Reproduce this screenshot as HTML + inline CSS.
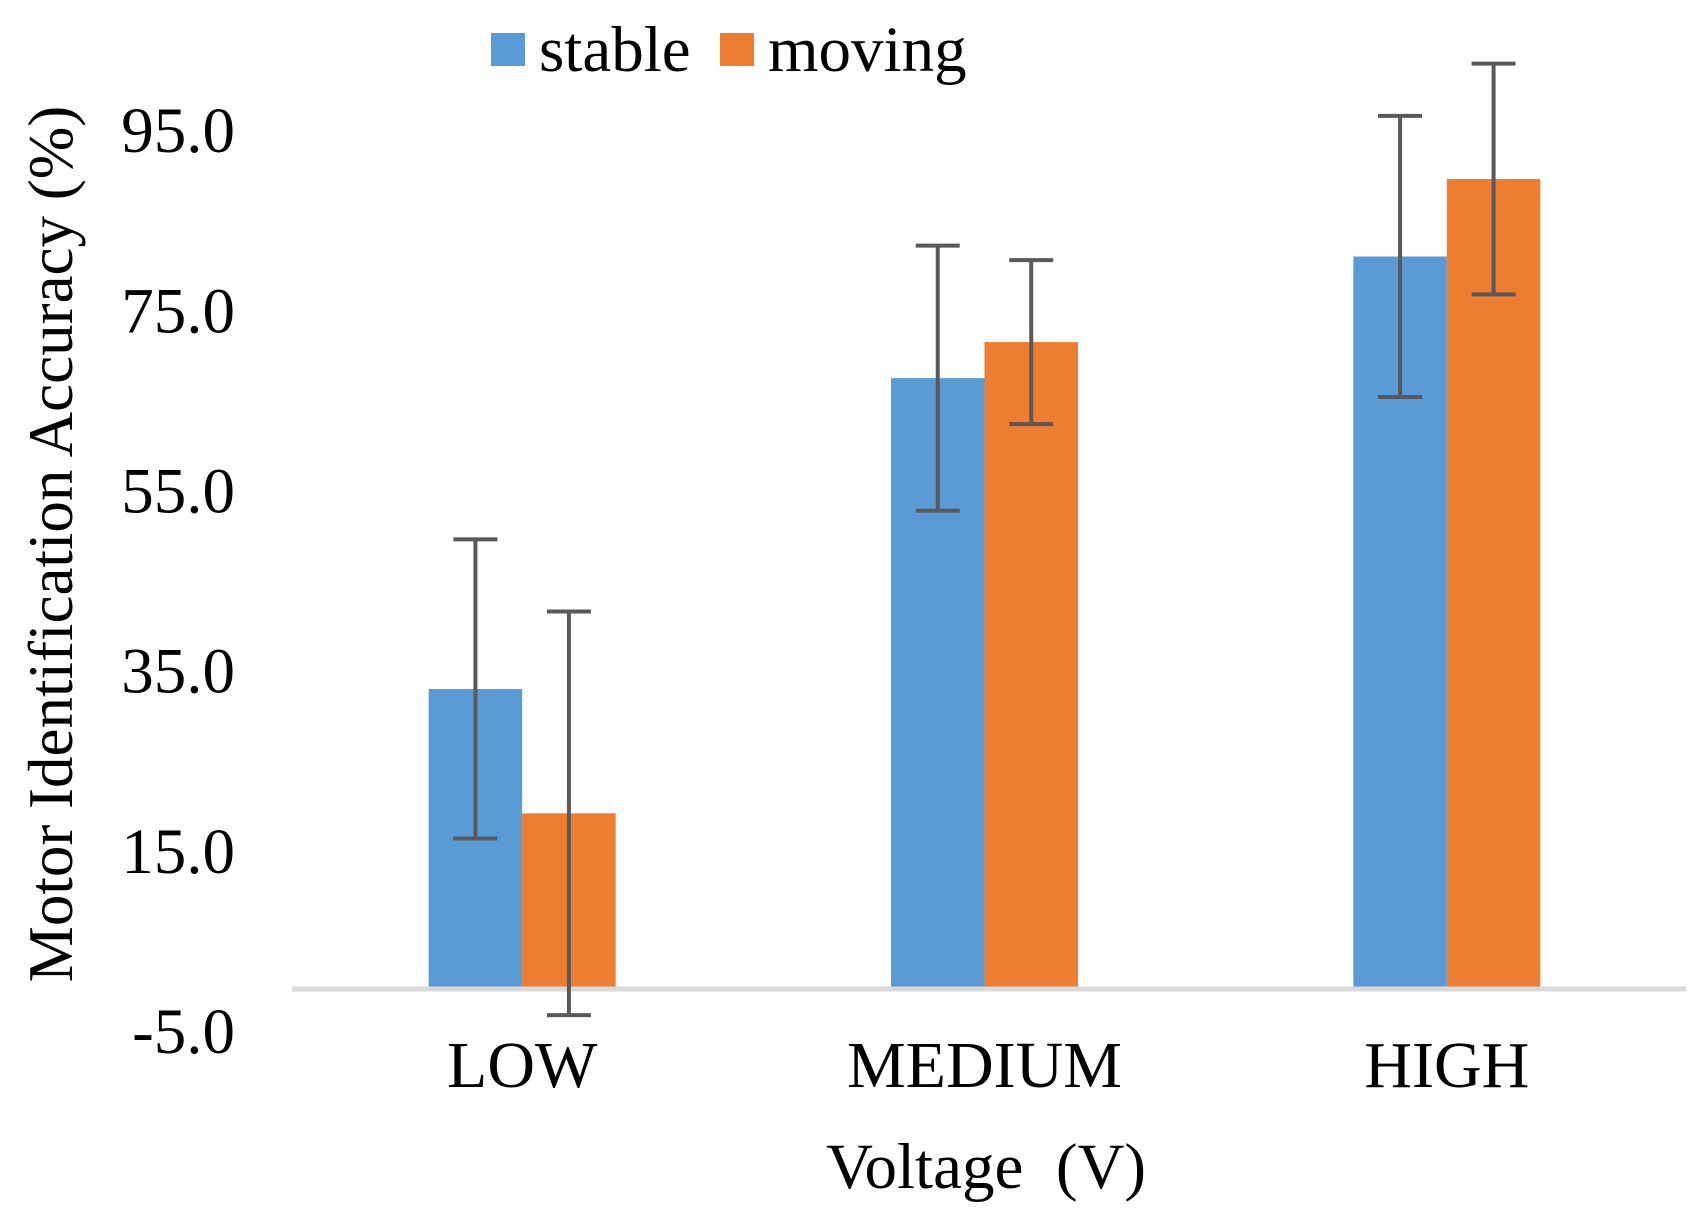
<!DOCTYPE html>
<html><head><meta charset="utf-8"><style>
html,body{margin:0;padding:0;background:#fff;}
svg{display:block;font-family:"Liberation Serif",serif;}
</style></head><body>
<svg id="chart" width="1704" height="1228" viewBox="0 0 1704 1228" xmlns="http://www.w3.org/2000/svg">
<g id="legend">
<rect x="491" y="33" width="34" height="33" fill="#5b9bd5"/>
<text x="539" y="71" font-size="65" fill="#000">stable</text>
<rect x="720" y="33" width="34" height="33" fill="#ed7d31"/>
<text x="768" y="71" font-size="65" fill="#000">moving</text>
</g>
<text transform="translate(72,544) rotate(-90)" text-anchor="middle" font-size="63" fill="#000">Motor Identification Accuracy (%)</text>
<text x="986" y="1188" text-anchor="middle" font-size="65" fill="#000" xml:space="preserve">Voltage  (V)</text>
<g id="plot"></g>
</svg>
<script>
const categories = ["LOW", "MEDIUM", "HIGH"];
const stableValues = [33.3, 67.8, 81.3];
const stableErrors = [16.6, 14.7, 15.6];
const movingValues = [19.5, 71.8, 89.9];
const movingErrors = [22.4, 9.1, 12.8];
const yTicks = [-5, 15, 35, 55, 75, 95];

const NS = "http://www.w3.org/2000/svg";
const plot = document.getElementById('plot');
const x0 = 291, x1 = 1678, y0 = 989, pxPerUnit = 9.01;
const catW = (x1 - x0) / categories.length;
const barW = 93.5;
function yScale(v){ return y0 - v * pxPerUnit; }
function xCenter(i){ return x0 + catW * (i + 0.5); }
function mk(tag, attrs){ const e = document.createElementNS(NS, tag); for (const k in attrs) e.setAttribute(k, attrs[k]); plot.appendChild(e); return e; }

yTicks.forEach(t => {
  const e = mk('text', {x: 235, y: yScale(t) - 2, 'text-anchor': 'end', 'dominant-baseline': 'central', 'font-size': 65, fill: '#000'});
  
  
  e.textContent = t.toFixed(1);
});

const series = [
  {vals: stableValues, errs: stableErrors, color: '#5b9bd5', off: -1, name: 'stable'},
  {vals: movingValues, errs: movingErrors, color: '#ed7d31', off: 0, name: 'moving'}
];
series.forEach(s => {
  categories.forEach((c, i) => {
    const xl = xCenter(i) + s.off * barW;
    const top = yScale(s.vals[i]);
    const b = mk('rect', {x: xl, y: top, width: barW, height: y0 - top, fill: s.color});
    
    
  });
});

const ax = mk('line', {x1: 292, x2: 1686, y1: y0, y2: y0, stroke: '#d9d9d9', 'stroke-width': 5});



series.forEach(s => {
  categories.forEach((c, i) => {
    const cx = xCenter(i) + s.off * barW + barW / 2;
    const hi = yScale(s.vals[i] + s.errs[i]), lo = yScale(s.vals[i] - s.errs[i]);
    const g = document.createElementNS(NS, 'g');
    
    
    plot.appendChild(g);
    [[cx, hi, cx, lo], [cx - 22, hi, cx + 22, hi], [cx - 22, lo, cx + 22, lo]].forEach(p => {
      const l = document.createElementNS(NS, 'line');
      l.setAttribute('x1', p[0]); l.setAttribute('y1', p[1]); l.setAttribute('x2', p[2]); l.setAttribute('y2', p[3]);
      l.setAttribute('stroke', '#595959'); l.setAttribute('stroke-width', 4);
      g.appendChild(l);
    });
  });
});

categories.forEach((c, i) => {
  const e = mk('text', {x: xCenter(i), y: 1087, 'text-anchor': 'middle', 'font-size': 66, fill: '#000'});
  
  
  e.textContent = c;
});
</script>
</body></html>
